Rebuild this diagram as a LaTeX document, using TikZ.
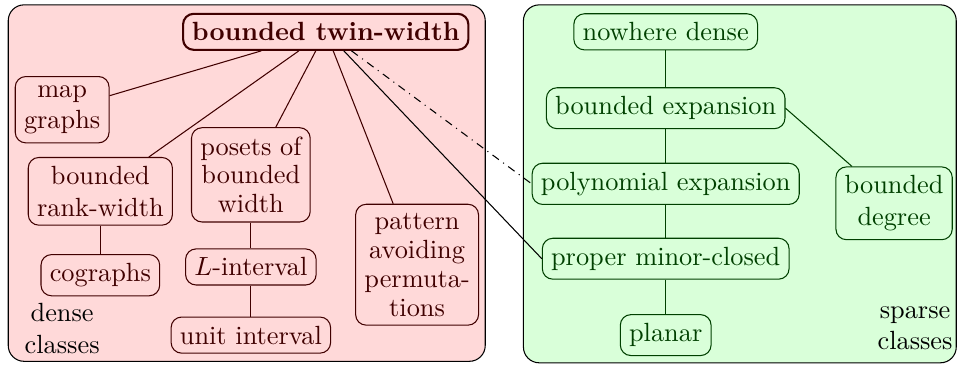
\documentclass[tikz,border=0pt]{standalone}
\usetikzlibrary{shapes}

\tikzset{
  dcls/.style={rectangle,rounded corners,draw=red!25!black,text=red!25!black,align=center},
  scls/.style={rectangle,rounded corners,draw=green!25!black,text=green!25!black,align=center},
  dline/.style={draw=red!25!black},
  sline/.style={draw=green!25!black}
}

\begin{document}
\begin{tikzpicture}
\useasboundingbox (0,0) rectangle (12.78,4.875);
% the two areas
\draw[fill=red!15,rounded corners=6pt] (0.11,0.05) rectangle (6.48,4.81);
\draw[fill=green!15,rounded corners=6pt] (6.99,0.03) rectangle (12.77,4.81);

% dense side
\node(A) at (4.35,4.45) [dcls,thick]{\textbf{bounded twin-width}};
\node(B) at (0.83,3.41) [dcls]{map\\graphs};
\node(C) at (1.34,2.32) [dcls]{bounded\\rank-width};
\node(D) at (1.34,1.20) [dcls]{cographs};
\node(E) at (3.35,2.54) [dcls]{posets of\\[-1pt]bounded\\[-1pt]width};
\node(F) at (3.35,1.31) [dcls]{$L$-interval};
\node(G) at (3.35,0.40) [dcls]{unit interval};
\node(H) at (5.57,1.34) [dcls]{pattern\\[-1pt]avoiding\\[-1pt]permuta-\\[-1pt]tions};
\node(I) at (0.83,0.49) [align=center]{dense\\classes};

% sparse side
\node(J) at (8.89,4.45) [scls]{nowhere dense};
\node(K) at (8.89,3.43) [scls]{bounded expansion};
\node(L) at (8.89,2.42) [scls]{polynomial expansion};
\node(M) at (8.89,1.42) [scls]{proper minor-closed};
\node(N) at (8.89,0.40) [scls]{planar};
\node(O) at (11.94,2.16) [scls]{bounded\\degree};
\node(P) at (12.22,0.49) [align=center]{sparse\\classes};

\draw[dline] (A) -- (B);
\draw[dline] (A) -- (C);
\draw[dline] (A) -- (E);
\draw[dline] (A) -- (H);
\draw[dline] (C) -- (D);
\draw[dline] (E) -- (F);
\draw[dline] (F) -- (G);
\draw (A) -- (M.west);
\draw[dash dot] (A) -- (L.west);

\draw[sline] (J) -- (K);
\draw[sline] (K) -- (L);
\draw[sline] (L) -- (M);
\draw[sline] (M) -- (N);
\draw[sline] (K.east) -- (O);
\end{tikzpicture}
\end{document}
